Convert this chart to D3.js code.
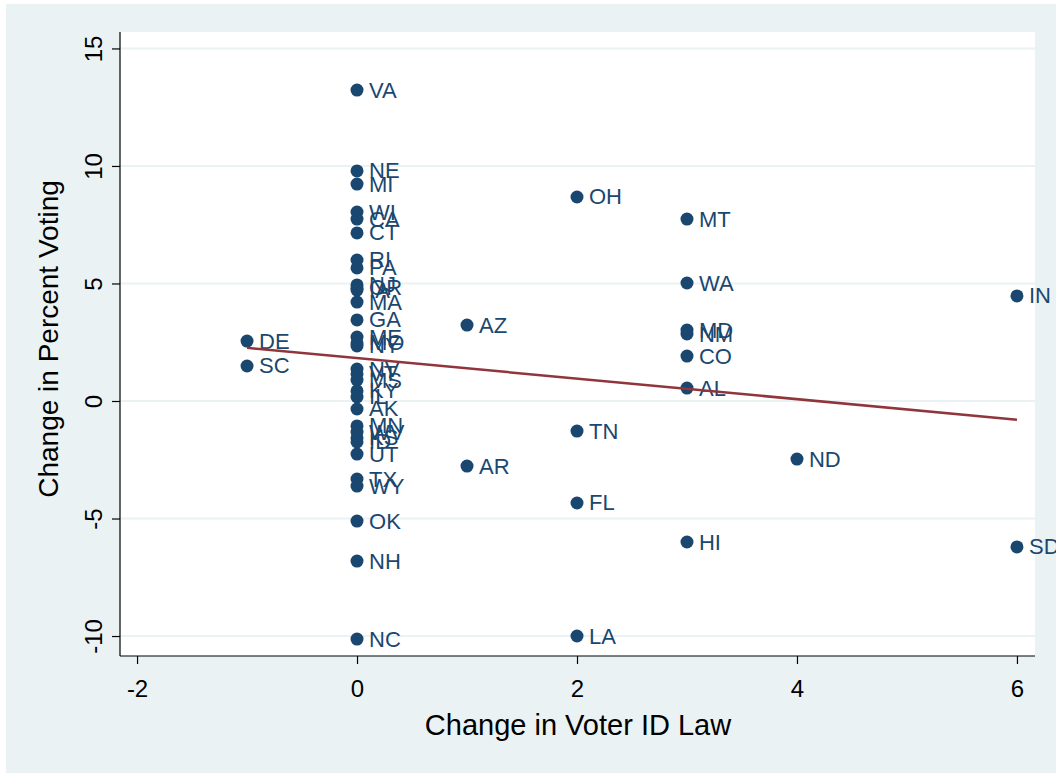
<!DOCTYPE html>
<html>
<head>
<meta charset="utf-8">
<script src="https://cdn.jsdelivr.net/npm/d3@7"></script>
<style>
  body { margin: 0; background: #ffffff; }
  svg { display: block; font-family: "Liberation Sans", Arial, sans-serif; }
</style>
</head>
<body>
<svg id="chart" width="1056" height="773"></svg>
<script>
// State codes, change in voter ID law, change in percent voting
const states = ["VA","NE","MI","WI","CA","CT","RI","PA","NJ","OR","IA","MA","GA","ME","MO","NY",
  "NV","VT","MS","KY","IL","AK","MN","WV","KS","ID","UT","TX","WY","OK","NH","NC",
  "DE","SC","AZ","AR","OH","TN","FL","LA","MT","WA","MD","NM","CO","AL","HI","ND","IN","SD"];
const idLawChange = [0,0,0,0,0,0,0,0,0,0,0,0,0,0,0,0,
  0,0,0,0,0,0,0,0,0,0,0,0,0,0,0,0,
  -1,-1,1,1,2,2,2,2,3,3,3,3,3,3,3,4,6,6];
const votingChange = [13.23,9.79,9.23,8.04,7.74,7.15,6.0,5.66,4.94,4.81,4.72,4.21,3.45,2.72,2.47,2.34,
  1.36,1.15,0.89,0.43,0.17,-0.34,-1.06,-1.32,-1.57,-1.74,-2.26,-3.32,-3.62,-5.11,-6.81,-10.13,
  2.55,1.49,3.23,-2.77,8.68,-1.28,-4.34,-10.0,7.74,5.02,3.02,2.85,1.91,0.55,-6.0,-2.47,4.47,-6.21];
const xTicks = [-2, 0, 2, 4, 6];
const yTicks = [-10, -5, 0, 5, 10, 15];

const data = states.map((s, i) => ({ s, x: idLawChange[i], y: votingChange[i] }));

const svg = d3.select("#chart");
const W = 1056, H = 773;
const plotL = 120, plotR = 1035, plotT = 32, plotB = 656;

const navy = "#1a476f", maroon = "#90353b", bg = "#eaf2f3";
const minus = d => d < 0 ? "-" + Math.abs(d) : String(d);

// Graph background and white plot region
svg.append("rect").attr("x", 6).attr("y", 4).attr("width", W - 6).attr("height", H - 4).attr("fill", bg);
svg.append("rect").attr("x", plotL).attr("y", plotT).attr("width", plotR - plotL).attr("height", plotB - plotT).attr("fill", "#ffffff");

const x = d3.scaleLinear().domain([-2.155, 6.164]).range([plotL, plotR]);
const y = d3.scaleLinear().domain([-10.85, 15.70]).range([plotB, plotT]);

// Horizontal grid lines
svg.append("g").selectAll("line").data(yTicks).join("line")
  .attr("x1", plotL).attr("x2", plotR)
  .attr("y1", d => y(d)).attr("y2", d => y(d))
  .attr("stroke", bg).attr("stroke-width", 2);

// Y axis
const yAxis = svg.append("g").attr("transform", `translate(${plotL},0)`)
  .call(d3.axisLeft(y).tickValues(yTicks).tickSize(8).tickPadding(0).tickFormat(minus));
yAxis.select(".domain").attr("d", `M0,${plotT}V${plotB}`).attr("stroke", "#000").attr("stroke-width", 1.2);
yAxis.selectAll(".tick line").attr("stroke", "#000").attr("stroke-width", 1.2);
yAxis.selectAll(".tick text")
  .attr("x", 0).attr("dy", null)
  .attr("transform", "translate(-27,0) rotate(-90)")
  .attr("text-anchor", "middle").attr("dominant-baseline", "central")
  .attr("font-size", 24).attr("fill", "#000")
  .style("font-family", "Liberation Sans, Arial, sans-serif");

// X axis
const xAxis = svg.append("g").attr("transform", `translate(0,${plotB})`)
  .call(d3.axisBottom(x).tickValues(xTicks).tickSize(8).tickPadding(0).tickFormat(minus));
xAxis.select(".domain").attr("d", `M${plotL},0H${plotR}`).attr("stroke", "#000").attr("stroke-width", 1.2);
xAxis.selectAll(".tick line").attr("stroke", "#000").attr("stroke-width", 1.2);
xAxis.selectAll(".tick text")
  .attr("y", 32).attr("dy", null)
  .attr("dominant-baseline", "central")
  .attr("font-size", 24).attr("fill", "#000")
  .style("font-family", "Liberation Sans, Arial, sans-serif");

// Axis titles
svg.append("text").attr("x", 578).attr("y", 725)
  .attr("text-anchor", "middle").attr("dominant-baseline", "central")
  .attr("font-size", 29).attr("fill", "#000").text("Change in Voter ID Law");
svg.append("text").attr("transform", "translate(48,339) rotate(-90)")
  .attr("text-anchor", "middle").attr("dominant-baseline", "central")
  .attr("font-size", 28).attr("fill", "#000").text("Change in Percent Voting");

// Points
svg.append("g").selectAll("circle").data(data).join("circle")
  .attr("cx", d => x(d.x)).attr("cy", d => y(d.y)).attr("r", 6.5)
  .attr("fill", navy);

// Point labels
svg.append("g").selectAll("text").data(data).join("text")
  .attr("x", d => x(d.x) + 12).attr("y", d => y(d.y))
  .attr("dominant-baseline", "central")
  .attr("font-size", 22).attr("fill", navy)
  .text(d => d.s);

// Least-squares fit line
const mx = d3.mean(data, d => d.x), my = d3.mean(data, d => d.y);
const slope = d3.sum(data, d => (d.x - mx) * (d.y - my)) / d3.sum(data, d => (d.x - mx) ** 2);
const intercept = my - slope * mx;
const [x0, x1] = d3.extent(idLawChange);
svg.append("line")
  .attr("x1", x(x0)).attr("y1", y(intercept + slope * x0))
  .attr("x2", x(x1)).attr("y2", y(intercept + slope * x1))
  .attr("stroke", maroon).attr("stroke-width", 2.5);
</script>
</body>
</html>
